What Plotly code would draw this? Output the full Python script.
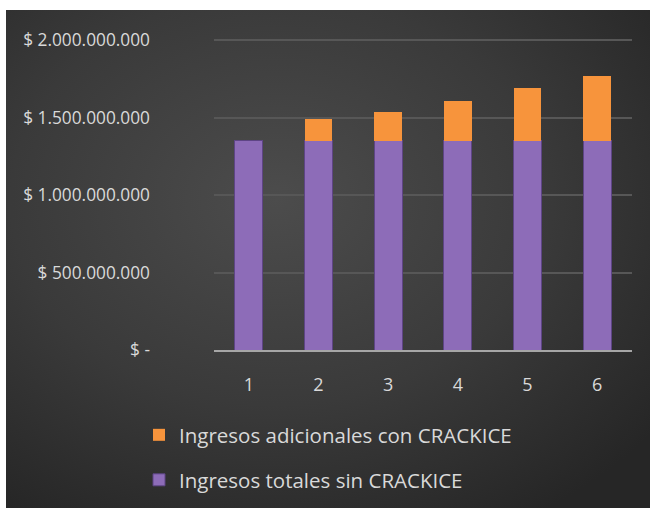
import plotly.graph_objects as go
import base64

categories = ["1", "2", "3", "4", "5", "6"]
base_values = [1350000000, 1350000000, 1350000000, 1350000000, 1350000000, 1350000000]
extra_values = [0, 138000000, 185000000, 256000000, 340000000, 418000000]
y_tickvals = [0, 500000000, 1000000000, 1500000000, 2000000000]
y_ticktext = ["$ -", "$ 500.000.000", "$ 1.000.000.000", "$ 1.500.000.000", "$ 2.000.000.000"]
series_names = ["Ingresos totales sin CRACKICE", "Ingresos adicionales con CRACKICE"]

FONT = "Open Sans"
TXT = "#d9d9d9"

svg = """<svg xmlns='http://www.w3.org/2000/svg' width='644' height='498' viewBox='0 0 644 498' preserveAspectRatio='none'>
<defs><radialGradient id='g' cx='0.42' cy='0.38' r='0.75'>
<stop offset='0' stop-color='#4c4c4c'/><stop offset='0.55' stop-color='#3a3a3a'/><stop offset='1' stop-color='#262626'/></radialGradient></defs>
<rect width='644' height='498' fill='url(#g)'/></svg>"""
bg_uri = "data:image/svg+xml;base64," + base64.b64encode(svg.encode()).decode()

# plot area pixels: x 214..632, y 38..350
L, R, T, B = 214, 18, 38, 158
W, H = 650 - L - R, 508 - T - B
YMAX = 2000000000 * H / 310.0

def px(x):
    return (x - L) / W

def py(y):
    return (508 - B - y) / H

fig = go.Figure()
fig.add_trace(go.Bar(x=categories, y=base_values, name=series_names[0],
                     marker=dict(color="#8d6cb8", line=dict(color="#5e4585", width=1)),
                     legend="legend2"))
fig.add_trace(go.Bar(x=categories, y=extra_values, name=series_names[1],
                     marker=dict(color="#f7943c", line=dict(width=0)),
                     legend="legend"))

fig.add_layout_image(dict(source=bg_uri, xref="paper", yref="paper",
                          x=px(6), y=py(10), sizex=px(650) - px(6), sizey=py(10) - py(508),
                          xanchor="left", yanchor="top", sizing="stretch", layer="below"))

LEG_FONT = dict(family=FONT, size=20.5, color=TXT)
fig.update_layout(
    width=650, height=508,
    margin=dict(l=L, r=R, t=T, b=B, autoexpand=False),
    paper_bgcolor="white", plot_bgcolor="rgba(0,0,0,0)",
    barmode="stack", bargap=0.6, showlegend=True,
    font=dict(family=FONT, size=17, color=TXT),
    legend=dict(x=px(139), y=py(435), xanchor="left", yanchor="middle",
                bgcolor="rgba(0,0,0,0)", font=LEG_FONT),
    legend2=dict(x=px(139), y=py(480), xanchor="left", yanchor="middle",
                 bgcolor="rgba(0,0,0,0)", font=LEG_FONT),
    xaxis=dict(showline=True, linecolor="#a6a6a6", linewidth=2, showgrid=False,
               ticks="", ticklabelstandoff=17, tickfont=dict(size=18, color=TXT)),
    yaxis=dict(range=[0, YMAX], tickvals=y_tickvals, ticktext=y_ticktext,
               showgrid=True, gridcolor="#575757", gridwidth=1.5, zeroline=False,
               showline=False, ticks="", ticklabelstandoff=63,
               tickfont=dict(size=17.3, color=TXT)),
)

fig.write_html("out.html")
